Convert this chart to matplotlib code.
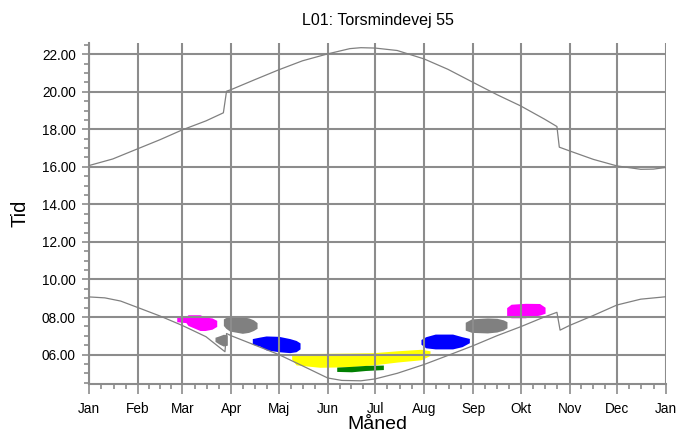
import matplotlib
matplotlib.use("Agg")
import matplotlib.pyplot as plt
from matplotlib.ticker import FixedLocator, FuncFormatter

plt.rcParams['font.family'] = ['Liberation Sans', 'DejaVu Sans']

# month starts (day of year) and labels
month_days = [0, 31, 59, 90, 120, 151, 181, 212, 243, 273, 304, 334, 365]
month_labels = ['Jan', 'Feb', 'Mar', 'Apr', 'Maj', 'Jun', 'Jul', 'Aug',
                'Sep', 'Okt', 'Nov', 'Dec', 'Jan']

# sunset (upper curve): day, hour
sunset_day = [0, 15, 31, 45, 59, 74, 85, 87, 90, 105, 120, 135, 151, 165, 172,
              181, 195, 212, 227, 243, 258, 273, 288, 296, 297.5, 304, 319,
              334, 349, 357, 365]
sunset_hour = [16.07, 16.42, 16.97, 17.45, 17.97, 18.45, 18.88, 20.03, 20.12,
               20.65, 21.17, 21.65, 22.02, 22.3, 22.35, 22.33, 22.2, 21.75,
               21.2, 20.5, 19.85, 19.25, 18.55, 18.15, 17.05, 16.85, 16.4,
               16.05, 15.87, 15.88, 15.97]

# sunrise (lower curve)
sunrise_day = [0, 10, 20, 31, 45, 59, 74, 86, 87, 90, 105, 120, 135, 151, 160,
               172, 181, 195, 212, 227, 243, 258, 273, 288, 296, 298, 304, 319,
               334, 349, 365]
sunrise_hour = [9.07, 9.02, 8.85, 8.5, 8.05, 7.55, 6.95, 6.15, 7.12, 7.0, 6.5,
                6.0, 5.4, 4.75, 4.62, 4.6, 4.7, 5.0, 5.47, 5.95, 6.47, 7.0,
                7.48, 8.0, 8.25, 7.3, 7.55, 8.08, 8.64, 8.95, 9.08]

# shadow periods: days, lower hour, upper hour
magenta1_day = [55.5, 61.3, 62.6, 70.2, 73.4, 77.8, 80.8]
magenta1_lo = [7.75, 7.7, 7.55, 7.28, 7.28, 7.35, 7.5]
magenta1_hi = [8.0, 8.02, 8.12, 8.12, 8.0, 7.95, 7.82]

gray1_day = [85.0, 86.5, 89, 97, 101, 104, 106.3]
gray1_lo = [7.55, 7.4, 7.25, 7.13, 7.18, 7.28, 7.4]
gray1_hi = [7.9, 7.97, 8.02, 8.02, 7.95, 7.85, 7.7]

gray2_day = [79.7, 82.5, 85, 87.5]
gray2_lo = [6.7, 6.55, 6.45, 6.5]
gray2_hi = [6.92, 7.0, 7.08, 7.05]

blue1_day = [103.3, 108, 112, 120, 127, 131, 133.5]
blue1_lo = [6.55, 6.45, 6.25, 6.15, 6.1, 6.15, 6.3]
blue1_hi = [6.85, 6.93, 6.99, 6.97, 6.85, 6.75, 6.62]

yellow_day = [128.2, 131, 146, 165, 180, 195, 210, 215.7]
yellow_lo = [5.75, 5.45, 5.32, 5.35, 5.45, 5.6, 5.72, 5.95]
yellow_hi = [5.98, 6.05, 6.06, 6.08, 6.1, 6.2, 6.28, 6.2]

green_day = [156.7, 166, 175, 186.2]
green_lo = [5.1, 5.08, 5.15, 5.2]
green_hi = [5.33, 5.37, 5.42, 5.44]

blue2_day = [210, 213, 219, 230, 236, 240.6]
blue2_lo = [6.55, 6.36, 6.3, 6.3, 6.42, 6.63]
blue2_hi = [6.8, 6.95, 7.09, 7.09, 6.95, 6.86]

gray3_day = [238, 242, 252, 258, 262, 264.4]
gray3_lo = [7.3, 7.18, 7.15, 7.2, 7.3, 7.42]
gray3_hi = [7.72, 7.9, 7.95, 7.93, 7.85, 7.75]

magenta2_day = [264.2, 267, 276, 285, 288.5]
magenta2_lo = [8.07, 7.96, 7.96, 8.1, 8.2]
magenta2_hi = [8.5, 8.68, 8.73, 8.72, 8.52]

shadows = [
    ('#ff00ff', magenta1_day, magenta1_lo, magenta1_hi),
    ('#808080', gray1_day, gray1_lo, gray1_hi),
    ('#808080', gray2_day, gray2_lo, gray2_hi),
    ('#0000ff', blue1_day, blue1_lo, blue1_hi),
    ('#ffff00', yellow_day, yellow_lo, yellow_hi),
    ('#008000', green_day, green_lo, green_hi),
    ('#0000ff', blue2_day, blue2_lo, blue2_hi),
    ('#808080', gray3_day, gray3_lo, gray3_hi),
    ('#ff00ff', magenta2_day, magenta2_lo, magenta2_hi),
]

grid_col = '#8c8c8c'

fig = plt.figure(figsize=(6.79, 4.36), dpi=100)
ax = fig.add_axes([89 / 679, 52 / 436, 577 / 679, 341 / 436])

for col, d, lo, hi in shadows:
    ax.fill_between(d, lo, hi, color=col, linewidth=0, zorder=1)

ax.plot(sunset_day, sunset_hour, color='#808080', lw=0.9, zorder=3)
ax.plot(sunrise_day, sunrise_hour, color='#808080', lw=0.9, zorder=3)

ax.set_xlim(0, 365)
ax.set_ylim(4.43, 22.6)

ax.set_xticks(month_days)
ax.set_xticklabels(month_labels)
minor_x = []
for a, b in zip(month_days[:-1], month_days[1:]):
    minor_x += [a + (b - a) * k / 4 for k in (1, 2, 3)]
ax.xaxis.set_minor_locator(FixedLocator(minor_x))

ax.set_yticks(range(6, 23, 2))
ax.yaxis.set_major_formatter(FuncFormatter(lambda v, p: '%05.2f' % v))
ax.yaxis.set_minor_locator(FixedLocator([v * 0.5 for v in range(9, 46)]))

ax.set_axisbelow(False)
ax.grid(True, which='major', color=grid_col, lw=1.5, zorder=2)

for s in ('top', 'right'):
    ax.spines[s].set_visible(False)
for s in ('left', 'bottom'):
    ax.spines[s].set_color(grid_col)
    ax.spines[s].set_linewidth(1.5)

ax.tick_params(axis='both', which='both', color=grid_col, width=1.2,
               labelsize=9.8, direction='out')
ax.tick_params(axis='x', which='major', length=7.5, pad=5.5)
ax.tick_params(axis='x', which='minor', length=3.5)
ax.tick_params(axis='y', which='major', length=5, pad=4.5)
ax.tick_params(axis='y', which='minor', length=3.5)

ax.set_title('L01: Torsmindevej 55', fontsize=11.5, pad=13)
ax.set_xlabel('Måned', fontsize=14, labelpad=0)
ax.set_ylabel('Tid', fontsize=14.5, labelpad=9)

fig.savefig('out.png', dpi=100)
